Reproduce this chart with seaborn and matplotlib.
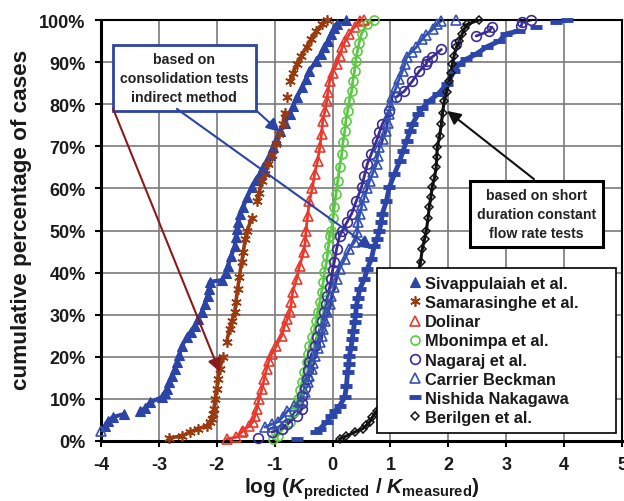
import numpy as np
import pandas as pd
import matplotlib
matplotlib.use("Agg")
import matplotlib.pyplot as plt
import seaborn as sns
from matplotlib.ticker import FuncFormatter

sns.set_theme(style="white")
plt.rcParams['font.family'] = ['Liberation Sans', 'DejaVu Sans']
plt.rcParams['axes.unicode_minus'] = False
plt.rcParams['mathtext.fontset'] = 'custom'
plt.rcParams['mathtext.rm'] = 'Liberation Sans:bold'
plt.rcParams['mathtext.it'] = 'Liberation Sans:bold:italic'
plt.rcParams['mathtext.bf'] = 'Liberation Sans:bold'

# ---------------- data (cumulative % , log(Kp/Km)) ----------------
siv_y = [3.6, 4.8, 5.7, 6.4, 7.1, 7.8, 9.2, 10.4, 11.5, 12.4, 14, 15.4, 17, 18.7, 20.5, 22.6, 24.7, 26, 27.4, 29,
         30.6, 32.5, 34.5, 36, 37.8, 38.2, 40, 41.6, 44, 46.3, 48.5, 50.4, 52, 54, 55.6, 58, 60.3, 62, 63.4, 65,
         66.5, 68, 69.8, 71.5, 73.6, 75.5, 77.7, 79.5, 81.7, 84, 86, 87.9, 90.3, 92, 93.6, 95, 96.7, 98, 99, 100]
siv_x = [-3.93, -3.88, -3.79, -3.6, -3.33, -3.24, -3.15, -2.95, -2.9, -2.86, -2.82, -2.78, -2.73, -2.69, -2.65,
         -2.6, -2.52, -2.45, -2.38, -2.32, -2.26, -2.21, -2.16, -2.14, -2.12, -1.91, -1.84, -1.81, -1.75, -1.69,
         -1.67, -1.65, -1.63, -1.6, -1.55, -1.47, -1.4, -1.33, -1.26, -1.2, -1.14, -1.08, -1.03, -0.97, -0.91,
         -0.83, -0.74, -0.68, -0.62, -0.52, -0.46, -0.4, -0.28, -0.2, -0.14, -0.08, -0.02, 0.03, 0.07, 0.24]

sam_y = [0.7, 1.2, 2.1, 2.9, 3.6, 4.4, 5.2, 6.4, 7.6, 10, 12.4, 14.8, 17.1, 20, 23.5, 26.6, 28.5, 30.6, 33, 36.1,
         39, 42.5, 45, 48, 50, 53, 57, 59, 61.7, 63.5, 65.8, 68, 70.5, 73, 75.3, 78, 81.7, 85.5, 87.5, 89.5, 91.5,
         93.6, 95.5, 97.4, 99, 100]
sam_x = [-2.83, -2.6, -2.47, -2.33, -2.17, -2.12, -2.09, -2.07, -2.05, -2.03, -2.0, -1.98, -1.95, -1.89, -1.83,
         -1.78, -1.74, -1.69, -1.67, -1.64, -1.61, -1.57, -1.54, -1.51, -1.47, -1.4, -1.31, -1.27, -1.22, -1.17,
         -1.12, -1.05, -0.97, -0.92, -0.86, -0.83, -0.79, -0.74, -0.68, -0.62, -0.54, -0.45, -0.37, -0.28, -0.18,
         -0.1]

dol_y = [0.5, 0.9, 2.1, 2.4, 3.5, 4.5, 6, 7.6, 10, 12.4, 14.8, 17.1, 19, 20.7, 22.6, 25, 27.3, 29, 30.6, 33, 35.4,
         38.5, 41.6, 44.9, 47.5, 50, 53.5, 57, 60, 63.4, 66.5, 69.8, 73, 76, 78.5, 80.8, 83, 85.5, 87.5, 89.5, 91.5,
         93.6, 95, 96.7, 98.3, 99.8, 100]
dol_x = [-1.83, -1.66, -1.57, -1.55, -1.45, -1.38, -1.34, -1.31, -1.27, -1.22, -1.18, -1.14, -1.1, -1.05, -0.97,
         -0.88, -0.83, -0.78, -0.74, -0.71, -0.69, -0.62, -0.57, -0.5, -0.47, -0.46, -0.43, -0.4, -0.35, -0.31,
         -0.26, -0.22, -0.19, -0.17, -0.13, -0.1, -0.08, -0.05, 0.0, 0.07, 0.12, 0.17, 0.22, 0.29, 0.38, 0.47, 0.55]

mbo_y = [0.5, 1.2, 2.9, 4.5, 6.9, 8.5, 10, 12, 14, 16.5, 18.8, 20.7, 22.6, 24.6, 26.6, 28.6, 30.6, 33, 35.4, 37.7,
         40.1, 42, 44, 46.4, 48.7, 50, 53, 55.6, 58.7, 61.8, 65, 68.2, 71, 73.6, 76, 78.4, 80.8, 83.1, 85.5, 87.9,
         90.3, 92.6, 94.6, 96.7, 99, 100]
mbo_x = [-1.03, -0.95, -0.86, -0.74, -0.66, -0.63, -0.6, -0.56, -0.53, -0.49, -0.45, -0.42, -0.4, -0.35, -0.31,
         -0.28, -0.26, -0.22, -0.19, -0.16, -0.14, -0.11, -0.09, -0.07, -0.05, -0.02, 0.01, 0.03, 0.06, 0.09, 0.12,
         0.16, 0.18, 0.21, 0.23, 0.26, 0.29, 0.33, 0.35, 0.38, 0.4, 0.43, 0.46, 0.5, 0.59, 0.72]

nag_y = [0.7, 2.1, 2.9, 4, 6, 7.6, 9, 10.7, 12.7, 14.7, 16.8, 18.8, 20.7, 22.6, 24.6, 26.6, 28.6, 30.6, 32.5, 34.4,
         36.5, 38.5, 40.5, 42.5, 45.6, 48.7, 50, 52, 54, 57, 60.3, 63, 65.8, 68.2, 71.3, 73.3, 75.3, 78.4, 81.7,
         83.1, 85.5, 87.9, 89.5, 90.3, 91.2, 93, 94.3, 96.2, 97.4, 98.3, 98.6, 99.5, 100]
nag_x = [-1.29, -1.05, -0.88, -0.78, -0.62, -0.53, -0.52, -0.52, -0.48, -0.45, -0.42, -0.4, -0.36, -0.31, -0.27,
         -0.22, -0.18, -0.14, -0.11, -0.09, -0.05, -0.02, 0.0, 0.03, 0.07, 0.12, 0.17, 0.25, 0.33, 0.41, 0.5, 0.55,
         0.6, 0.67, 0.76, 0.81, 0.86, 0.98, 1.1, 1.24, 1.38, 1.5, 1.62, 1.63, 1.72, 1.88, 2.14, 2.48, 2.71, 2.75,
         3.26, 3.28, 3.43]

cb_y = [2.4, 3.3, 4.0, 4.5, 5.7, 7.1, 8.3, 9.3, 11.6, 14, 15.5, 17.1, 18.6, 20.2, 22, 23.5, 25, 26.6, 28.6, 30.6,
        32.5, 34.4, 36.5, 38.5, 40.9, 43.2, 45.6, 47.3, 49.6, 52, 54, 56, 58, 60, 61.8, 63.8, 65.8, 67.8, 69.8,
        71.7, 73.6, 75.6, 77.7, 79.7, 81.7, 84, 86, 87.9, 89.5, 91.2, 92.5, 93.6, 95.5, 96.5, 97.9, 99, 99.8, 100]
cb_x = [-4.0, -1.17, -1.05, -0.95, -0.86, -0.78, -0.66, -0.57, -0.48, -0.43, -0.4, -0.36, -0.33, -0.31, -0.26,
        -0.22, -0.19, -0.17, -0.13, -0.09, -0.05, -0.02, 0.03, 0.07, 0.12, 0.21, 0.29, 0.38, 0.43, 0.44, 0.47, 0.51,
        0.55, 0.6, 0.64, 0.7, 0.76, 0.78, 0.81, 0.87, 0.93, 0.95, 0.98, 1.0, 1.03, 1.1, 1.15, 1.21, 1.25, 1.28,
        1.37, 1.45, 1.55, 1.62, 1.74, 1.8, 1.88, 2.14]

nis_y = [0.5, 2.1, 2.9, 4.5, 6, 7.2, 8.3, 10.4, 13, 16.4, 18.3, 20.2, 22.2, 24.2, 26.2, 28.3, 30, 32, 34, 36.1,
         38.5, 40.9, 43.2, 46.3, 48, 50, 52, 54, 57, 60.3, 63.4, 66.5, 69, 71.3, 73.6, 75.3, 77.7, 79, 80.8, 82.4,
         84.8, 87.9, 89.5, 90.7, 91.9, 93.6, 95, 96.7, 97.4, 98.3, 99.5, 100]
nis_x = [-0.62, -0.28, -0.22, -0.1, -0.02, 0.05, 0.12, 0.21, 0.24, 0.26, 0.28, 0.29, 0.32, 0.34, 0.36, 0.38, 0.4,
         0.41, 0.44, 0.47, 0.55, 0.6, 0.67, 0.72, 0.77, 0.81, 0.84, 0.86, 0.93, 0.98, 1.07, 1.16, 1.22, 1.28, 1.34,
         1.38, 1.48, 1.55, 1.67, 1.82, 1.98, 2.1, 2.19, 2.31, 2.48, 2.66, 2.88, 3.0, 3.22, 3.52, 3.86, 4.05]

ber_y = [0.5, 1.2, 2.1, 2.9, 3.7, 4.5, 5.7, 7.1, 10, 15, 20, 25, 30, 35, 40, 42.5, 45.6, 48, 50, 53, 55.6, 58,
         60.3, 62.5, 65, 67.5, 69.8, 72.5, 75.3, 78, 80.8, 83, 85.5, 87.5, 89.5, 91.5, 93.6, 95, 96.7, 98, 99, 100]
ber_x = [0.12, 0.24, 0.38, 0.52, 0.58, 0.64, 0.69, 0.76, 0.9, 1.05, 1.18, 1.27, 1.35, 1.42, 1.48, 1.52, 1.55, 1.59,
         1.62, 1.65, 1.67, 1.7, 1.72, 1.76, 1.79, 1.8, 1.81, 1.85, 1.88, 1.9, 1.93, 1.97, 2.02, 2.05, 2.07, 2.1,
         2.14, 2.19, 2.24, 2.28, 2.33, 2.53]

names = ["Sivappulaiah et al.", "Samarasinghe et al.", "Dolinar", "Mbonimpa et al.",
         "Nagaraj et al.", "Carrier Beckman", "Nishida Nakagawa", "Berilgen et al."]
xs = [siv_x, sam_x, dol_x, mbo_x, nag_x, cb_x, nis_x, ber_x]
ys = [siv_y, sam_y, dol_y, mbo_y, nag_y, cb_y, nis_y, ber_y]

styles = [
    dict(marker='^', color='#2B44A6', mfc='#2B44A6', ms=6.5, mew=0.8, lw=3.0),
    dict(marker=(6, 2, 0), color='#9A3A0E', mfc='none', ms=7.5, mew=1.2, lw=2.6),
    dict(marker='^', color='#E8392B', mfc='none', ms=6.5, mew=1.2, lw=2.0),
    dict(marker='o', color='#5CC945', mfc='none', ms=6.5, mew=1.2, lw=2.0),
    dict(marker='o', color='#3B2C96', mfc='none', ms=7, mew=1.2, lw=2.0),
    dict(marker='^', color='#3452B4', mfc='none', ms=7, mew=1.2, lw=2.0),
    dict(marker='_', color='#2B45A8', mfc='#2B45A8', ms=8, mew=3.5, lw=3.5),
    dict(marker='D', color='#111111', mfc='none', ms=4.5, mew=1.1, lw=2.2),
]

fig = plt.figure(figsize=(6.24, 5.02), dpi=100)
ax = fig.add_axes([101/624, 60/502, 521/624, 421/502])
ax.set_xlim(-4, 5)
ax.set_ylim(0, 100)

# pixel scale of the data, used only to decide where the dense band of markers is continuous
px_per_x = 521 / 9.0
px_per_y = 421 / 100.0

for name, x, y, st in zip(names, xs, ys, styles):
    df = pd.DataFrame({"x": x, "y": y})
    xa, ya = np.asarray(x, float), np.asarray(y, float)
    gap = np.hypot(np.diff(xa) * px_per_x, np.diff(ya) * px_per_y) > 15
    bx, by = [xa[0]], [ya[0]]
    for i in range(1, len(xa)):
        if gap[i - 1]:
            bx.append(np.nan); by.append(np.nan)
        bx.append(xa[i]); by.append(ya[i])
    ax.plot(bx, by, color=st['color'], lw=st['lw'], solid_capstyle='round', zorder=2)
    sns.lineplot(data=df, x="x", y="y", estimator=None, sort=False, ax=ax, ls='',
                 marker=st['marker'], color=st['color'], mfc=st['mfc'], mec=st['color'],
                 ms=st['ms'], mew=st['mew'], label=name, clip_on=False, zorder=3)

ax.set_xticks(range(-4, 6))
ax.set_yticks(range(0, 101, 10))
ax.yaxis.set_major_formatter(FuncFormatter(lambda v, p: f"{v:.0f}%"))
ax.grid(True, color='#7a7a7a', lw=1.2)
ax.set_axisbelow(True)
for s in ax.spines.values():
    s.set_color('black')
    s.set_linewidth(1.5)
ax.spines['left'].set_linewidth(2.2)
ax.spines['bottom'].set_linewidth(2.2)
ax.tick_params(axis='both', which='major', direction='out', length=4, width=1.5, color='black',
               labelsize=13, pad=7, bottom=True, left=True)
for lab in ax.get_xticklabels() + ax.get_yticklabels():
    lab.set_fontweight('bold')
    lab.set_color('#1a1a1a')

ax.set_ylabel("cumulative percentage of cases", fontsize=16.2, fontweight='bold', color='#1a1a1a')
ax.yaxis.set_label_coords(-0.132, 0.527)
ax.set_xlabel(r"log ($K_{\mathrm{predicted}}$ / $K_{\mathrm{measured}}$)", fontsize=15,
              fontweight='bold', color='#1a1a1a', labelpad=1.5)

leg = ax.legend(loc='lower left', bbox_to_anchor=(0.53, 0.019, 0.458, 0.382), mode='expand',
                borderaxespad=0, prop={'weight': 'bold', 'size': 11.8}, frameon=True, fancybox=False,
                framealpha=1, edgecolor='black', numpoints=1, handlelength=3.6, handletextpad=-1.2,
                labelspacing=0.25, borderpad=0.5)
leg.get_frame().set_linewidth(1.2)
leg.set_zorder(10)
for t in leg.get_texts():
    t.set_color('#1a1a1a')

# annotations
ax.text(-2.56, 86.3, "based on\nconsolidation tests\nindirect method", ha='center', va='center',
        fontsize=10.2, fontweight='bold', color='#222222', linespacing=1.45, zorder=6,
        bbox=dict(boxstyle='square,pad=0.5', fc='white', ec='#2B44A6', lw=2))
ax.text(3.52, 53.9, "based on short\nduration constant\nflow rate tests", ha='center', va='center',
        fontsize=10.2, fontweight='bold', color='#222222', linespacing=1.45, zorder=6,
        bbox=dict(boxstyle='square,pad=0.5', fc='white', ec='black', lw=2.2))

def arrow(x0, y0, x1, y1, c):
    ax.annotate('', xy=(x1, y1), xytext=(x0, y0), zorder=7,
                arrowprops=dict(arrowstyle='-|>', color=c, lw=1.5, mutation_scale=20,
                                shrinkA=0, shrinkB=0))

arrow(-3.79, 78.9, -1.95, 16.4, '#8B1A1A')
arrow(-1.31, 78.4, -0.91, 73.4, '#2B44A6')
arrow(-2.69, 78.9, 0.69, 45.6, '#2B44A6')
arrow(3.48, 62.2, 1.98, 78.4, '#111111')

fig.savefig("out.png", dpi=100)
